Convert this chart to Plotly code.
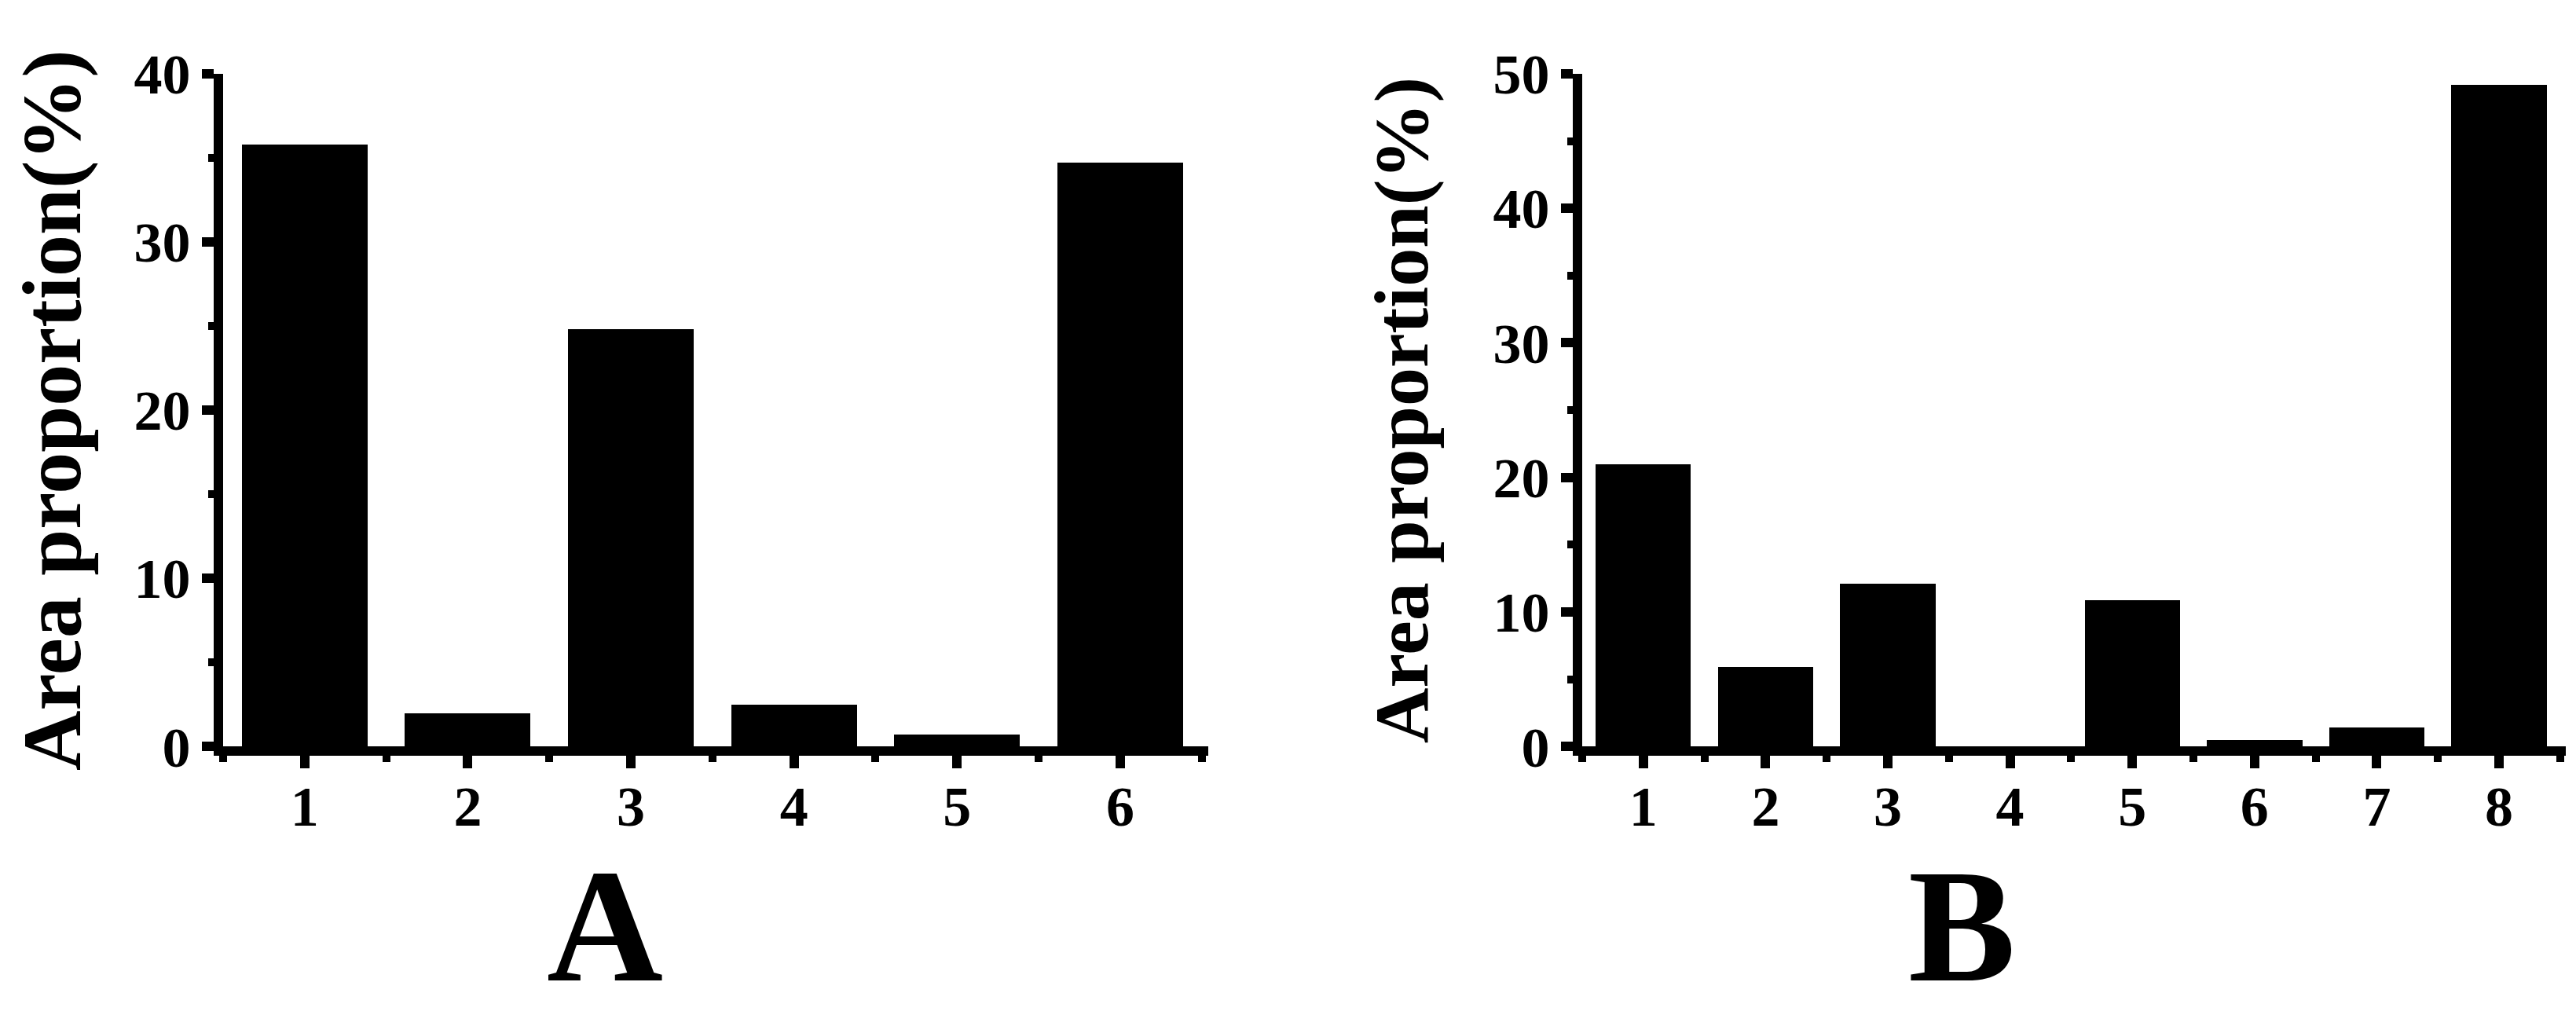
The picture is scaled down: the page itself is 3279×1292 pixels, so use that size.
import plotly.graph_objects as go

# panel A
cats_a = [1, 2, 3, 4, 5, 6]
vals_a = [35.8, 2.0, 24.8, 2.5, 0.7, 34.7]

# panel B
cats_b = [1, 2, 3, 4, 5, 6, 7, 8]
vals_b = [21.0, 5.9, 12.1, 0.0, 10.9, 0.5, 1.4, 49.2]

W, H = 3279, 1292
font = "Liberation Serif"

fig = go.Figure()
fig.add_trace(go.Bar(x=cats_a, y=vals_a, width=0.77, marker=dict(color="black", line=dict(width=0)),
                     xaxis="x", yaxis="y", showlegend=False))
fig.add_trace(go.Bar(x=cats_b, y=vals_b, width=0.78, marker=dict(color="black", line=dict(width=0)),
                     xaxis="x2", yaxis="y2", showlegend=False))

tickfont = dict(family=font, size=72, color="black", weight="bold")

def xax(domain, rng, anchor):
    return dict(domain=domain, range=rng, anchor=anchor, showgrid=False, zeroline=False,
                showline=True, linewidth=12, linecolor="black",
                ticks="outside", ticklen=16, tickwidth=12, tickcolor="black",
                tickmode="linear", tick0=1, dtick=1, tickfont=tickfont, ticklabelstandoff=-14,
                minor=dict(ticks="outside", ticklen=8, tickwidth=10, tickcolor="black",
                           tick0=0.5, dtick=0.5))

def yax(domain, rng, dtick, anchor, title, tsize, standoff):
    return dict(domain=domain, range=rng, anchor=anchor, showgrid=False, zeroline=False,
                showline=True, linewidth=12, linecolor="black",
                ticks="outside", ticklen=15, tickwidth=12, tickcolor="black",
                tickmode="linear", tick0=0, dtick=dtick, tickfont=tickfont,
                minor=dict(ticks="outside", ticklen=7, tickwidth=10, tickcolor="black",
                           tick0=0, dtick=dtick / 2),
                title=dict(text=title, standoff=standoff,
                           font=dict(family=font, size=tsize, color="black", weight="bold")))

ydom = [1 - 963 / H, 1 - 50 / H]
fig.update_layout(
    width=W, height=H,
    margin=dict(l=0, r=0, t=0, b=0),
    paper_bgcolor="white", plot_bgcolor="white",
    xaxis=xax([276 / W, 1530 / W], [0.5, 6.54], "y"),
    yaxis=yax(ydom, [0, 40], 10, "x", "Area proportion(%)", 106, 54),
    xaxis2=xax([2006 / W, 3258 / W], [0.5, 8.546], "y2"),
    yaxis2=yax(ydom, [0, 50], 10, "x2", "Area proportion(%)", 98, 55),
    bargap=0,
)

ann = []
# panel labels
ann.append(dict(text="A", x=762 / W, y=1 - 1206 / H, xref="paper", yref="paper",
                showarrow=False, xanchor="center", yanchor="middle",
                font=dict(family=font, size=205, color="black", weight="bold")))
ann.append(dict(text="B", x=2489 / W, y=1 - 1206 / H, xref="paper", yref="paper",
                showarrow=False, xanchor="center", yanchor="middle",
                font=dict(family=font, size=205, color="black", weight="bold")))
fig.update_layout(annotations=ann)

fig.write_html("out.html")
